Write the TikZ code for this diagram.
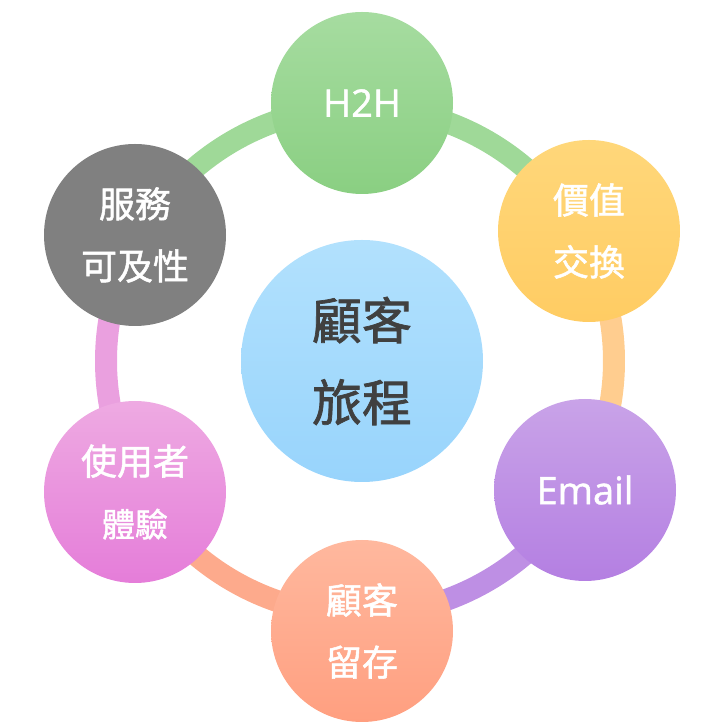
\documentclass[tikz,border=0pt]{standalone}
\usepackage{fontspec}
\setmainfont[FakeBold=1.2]{Open Sans}
\newfontfamily\cjk[FakeBold=1.4]{Noto Sans CJK TC}
\usepackage{xcolor}
\usetikzlibrary{positioning,calc}
\definecolor{gtop}{HTML}{A6DCA0}\definecolor{gbot}{HTML}{8ACF82}
\definecolor{otop}{HTML}{FFD77A}\definecolor{obot}{HTML}{FFCC63}
\definecolor{ptop}{HTML}{C9A3E8}\definecolor{pbot}{HTML}{B47FE2}
\definecolor{stop}{HTML}{FFB89E}\definecolor{sbot}{HTML}{FF9F80}
\definecolor{ktop}{HTML}{EEAAE2}\definecolor{kbot}{HTML}{E57DD9}
\definecolor{btop}{HTML}{B2E1FD}\definecolor{bbot}{HTML}{98D4FC}
\definecolor{rgreen}{HTML}{9FD998}
\definecolor{rorange}{HTML}{FFCD8F}
\definecolor{rpurple}{HTML}{BE8FE4}
\definecolor{rsalmon}{HTML}{FDAA8C}
\definecolor{rpink}{HTML}{EAA0DF}
\definecolor{txtdark}{HTML}{404040}
\tikzset{
  bub/.style={circle, minimum size=182pt, inner sep=0pt, align=center,
              text=white, font=\cjk\fontsize{36}{62}\selectfont},
  hub/.style={circle, minimum size=242pt, inner sep=0pt, align=center,
              text=txtdark, font=\cjk\fontsize{50}{82}\selectfont},
  ringseg/.style={line width=22pt}
}
\begin{document}
\begin{tikzpicture}[x=1pt, y=1pt,
  lat/.style={font=\fontsize{38}{46}\selectfont}
]
\useasboundingbox (0,0) rectangle (724,723);
\coordinate (rc) at (360,362);
% ring
\foreach \a/\b/\c in {90/30/rgreen, 30/-30/rorange, -30/-90/rpurple,
                      -90/-150/rsalmon, 210/150/rpink, 150/90/rgreen}
  \draw[ringseg, \c] ([shift={(\a:254pt)}]rc) arc[start angle=\a, end angle=\b, radius=254pt];
% circles
\node[hub, top color=btop, bottom color=bbot] (jny) at (362,362) {顧客\\旅程};
\node[bub, lat, top color=gtop, bottom color=gbot] (h2h) at (362,620) {H2H};
\node[bub, top color=otop, bottom color=obot] (val) at (589,492) {價值\\交換};
\node[bub, lat, top color=ptop, bottom color=pbot] (mail) at (585,233) {Email};
\node[bub, top color=stop, bottom color=sbot] (ret) at (362,92) {顧客\\留存};
\node[bub, top color=ktop, bottom color=kbot] (ux) at (135,231) {使用者\\{\fontsize{33}{62}\selectfont 體驗}};
\node[bub, fill=black!50] (svc) at (135,488) {服務\\可及性};
\end{tikzpicture}
\end{document}
